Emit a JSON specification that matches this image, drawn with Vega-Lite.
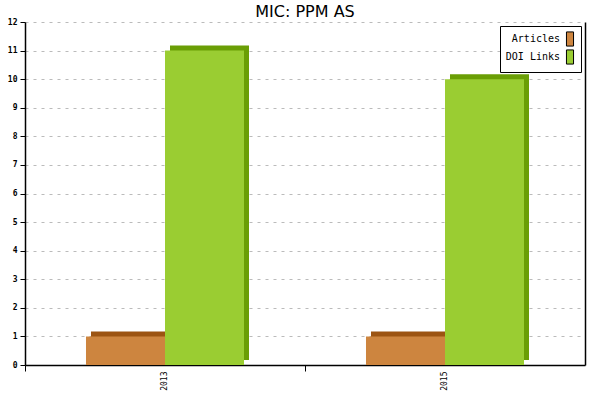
{
  "$schema": "https://vega.github.io/schema/vega-lite/v6.json",
  "background": "white",
  "autosize": "none",
  "width": 560,
  "height": 343,
  "padding": {"left": 25, "top": 22, "right": 15, "bottom": 35},
  "title": {
    "text": "MIC: PPM AS",
    "anchor": "middle",
    "font": "DejaVu Sans",
    "fontSize": 16,
    "fontWeight": "normal",
    "color": "#000000",
    "offset": -2
  },
  "data": {
    "values": [
      {"year": "2013", "series": "Articles", "value": 1},
      {"year": "2013", "series": "DOI Links", "value": 11},
      {"year": "2015", "series": "Articles", "value": 1},
      {"year": "2015", "series": "DOI Links", "value": 10}
    ]
  },
  "encoding": {
    "x": {
      "field": "year",
      "type": "nominal",
      "scale": {"paddingInner": 0, "paddingOuter": 0}
    },
    "y": {
      "field": "value",
      "type": "quantitative",
      "scale": {"domain": [0, 12], "nice": false}
    }
  },
  "layer": [
    {
      "mark": {"type": "bar", "yOffset": -5, "y2Offset": 3},
      "encoding": {
        "x": {
          "field": "year",
          "type": "nominal",
          "axis": {
            "orient": "bottom",
            "title": null,
            "labels": false,
            "domain": false,
            "ticks": true,
            "bandPosition": 0,
            "tickSize": 6,
            "tickColor": "#000000",
            "grid": false
          }
        },
        "xOffset": {
          "field": "series",
          "type": "nominal",
          "scale": {"paddingInner": 0, "paddingOuter": 0.772, "align": 0.541}
        },
        "y": {
          "field": "value",
          "type": "quantitative",
          "axis": {
            "orient": "right",
            "title": null,
            "labels": false,
            "ticks": false,
            "grid": false,
            "domainColor": "#000000",
            "domainWidth": 1.5
          }
        },
        "color": {
          "field": "series",
          "type": "nominal",
          "scale": {"domain": ["Articles", "DOI Links"], "range": ["#9c5412", "#6a9e05"]},
          "legend": null
        }
      }
    },
    {
      "mark": {"type": "bar"},
      "encoding": {
        "x": {
          "field": "year",
          "type": "nominal",
          "axis": {
            "orient": "bottom",
            "title": null,
            "ticks": false,
            "labelAngle": -90,
            "labelAlign": "right",
            "labelBaseline": "middle",
            "labelPadding": 6,
            "labelFont": "DejaVu Sans Mono",
            "labelFontSize": 8,
            "labelColor": "#000000",
            "domainColor": "#000000",
            "domainWidth": 1.5,
            "grid": false
          }
        },
        "xOffset": {
          "field": "series",
          "type": "nominal",
          "scale": {"paddingInner": 0, "paddingOuter": 0.772, "align": 0.5}
        },
        "y": {
          "field": "value",
          "type": "quantitative",
          "axis": {
            "orient": "left",
            "title": null,
            "values": [0, 1, 2, 3, 4, 5, 6, 7, 8, 9, 10, 11, 12],
            "labelFont": "DejaVu Sans Mono",
            "labelFontSize": 8,
            "labelFontWeight": "bold",
            "labelColor": "#000000",
            "labelPadding": 3,
            "tickSize": 5,
            "tickColor": "#000000",
            "domainColor": "#000000",
            "domainWidth": 1.5,
            "grid": true,
            "gridColor": "#bbbbbb",
            "gridDash": [3, 5]
          }
        },
        "color": {
          "field": "series",
          "type": "nominal",
          "scale": {"domain": ["Articles", "DOI Links"], "range": ["#cd853f", "#9acd32"]},
          "legend": {
            "title": null,
            "orient": "top-right",
            "offset": 4,
            "fillColor": "white",
            "strokeColor": "#000000",
            "padding": 5,
            "labelFont": "DejaVu Sans Mono",
            "labelFontSize": 10,
            "labelColor": "#000000",
            "labelAlign": "right",
            "labelOffset": -18,
            "symbolOffset": 57,
            "symbolType": "M-0.5,-1H0.5V1H-0.5Z",
            "symbolSize": 200,
            "symbolStrokeColor": "#000000",
            "symbolStrokeWidth": 1,
            "symbolOpacity": 1,
            "rowPadding": -3
          }
        }
      }
    }
  ],
  "resolve": {
    "scale": {"color": "independent", "xOffset": "independent"},
    "axis": {"x": "independent", "y": "independent"}
  },
  "config": {
    "view": {"stroke": null}
  }
}
